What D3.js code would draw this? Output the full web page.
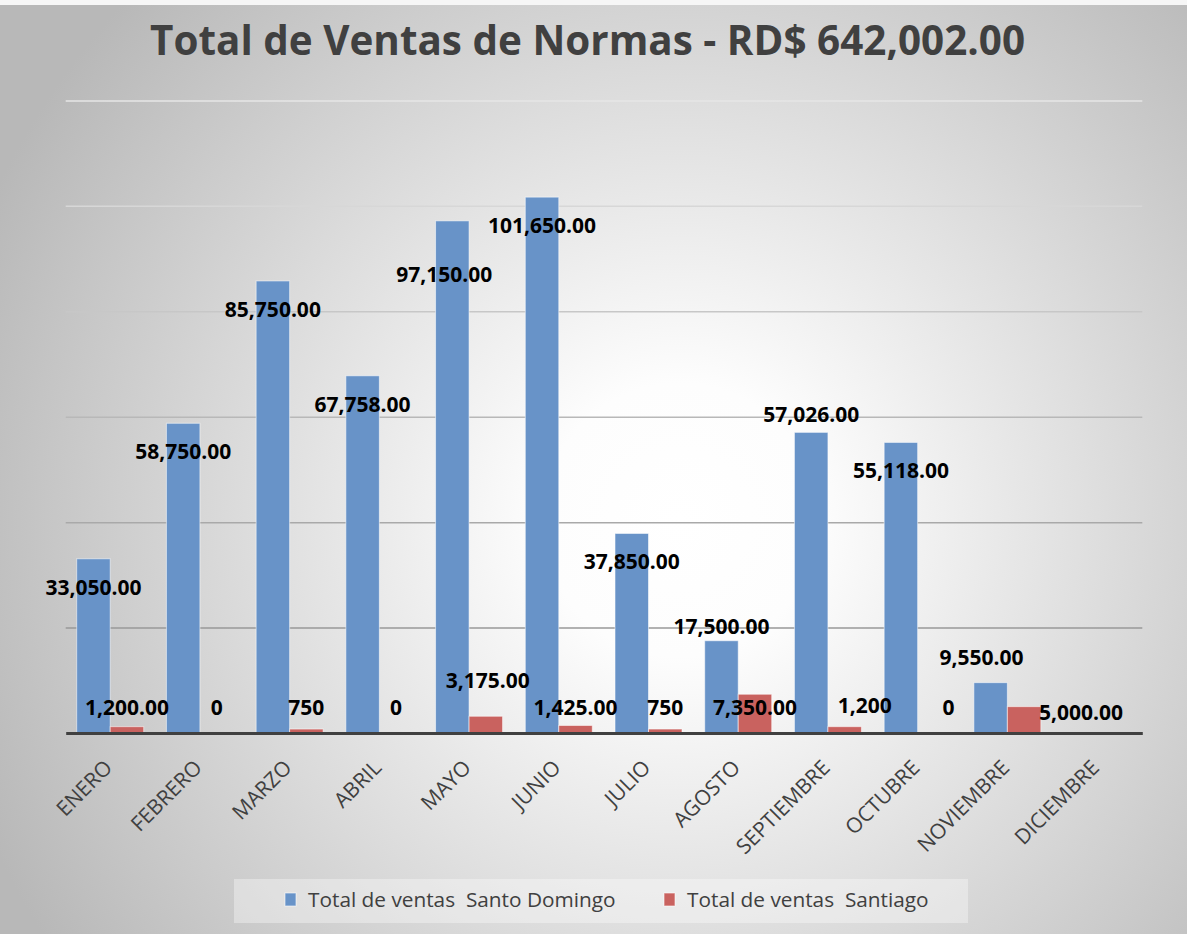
<!DOCTYPE html>
<html>
<head>
  <meta charset="utf-8">
  <title>Total de Ventas de Normas</title>
  <style>
    body { margin: 0; background: #fff; }
    svg { display: block; }
    .title { font-family: "Open Sans", sans-serif; font-weight: 700; fill: #404040; }
    .val { font-family: "Open Sans", sans-serif; font-weight: 700; font-size: 21px; fill: #000; text-anchor: middle; }
    .cat { font-family: "Open Sans", sans-serif; font-size: 21px; fill: #404040; }
    .legend text { font-family: "Open Sans", sans-serif; font-size: 20.8px; fill: #404040; white-space: pre; }
  </style>
</head>
<body>
  <svg id="canvas"></svg>
  <script src="https://d3js.org/d3.v7.min.js"></script>
  <script>
    // data
    const months = ["ENERO", "FEBRERO", "MARZO", "ABRIL", "MAYO", "JUNIO", "JULIO",
      "AGOSTO", "SEPTIEMBRE", "OCTUBRE", "NOVIEMBRE", "DICIEMBRE"];
    const santoDomingo = [33050, 58750, 85750, 67758, 97150, 101650, 37850, 17500, 57026, 55118, 9550, null];
    const santiago = [1200, 0, 750, 0, 3175, 1425, 750, 7350, 1200, 0, 5000, null];
    const santiagoLabels = ["1,200.00", "0", "750", "0", "3,175.00", "1,425.00", "750", "7,350.00", "1,200", "0", "5,000.00", null];
    const seriesNames = ["Total de ventas  Santo Domingo", "Total de ventas  Santiago"];
    const seriesColors = ["#6893c8", "#c9625f"];
    const yMax = 120000;
    const titleText = "Total de Ventas de Normas - RD$ 642,002.00";

    // hand-moved label nudges (like the original workbook), [dx, dy]
    const nudgeSD = [[0, 0], [0, 0], [0, 0], [0, 0], [-8, 25], [0, 0], [0, 0], [0, -43], [0, -46], [0, 0], [-9, -54], [0, 0]];
    const nudgeST = [[0, 0], [0, 0], [0, 0], [0, 0], [2, -27], [0, 0], [0, 0], [0, 0], [20, -2], [14, 0], [57, 5], [0, 0]];

    const W = 1187, H = 934;
    const dims = { left: 65.7, right: 1142.3, top: 100.4, base: 733 };

    const svg = d3.select("#canvas").attr("width", W).attr("height", H);

    const defs = svg.append("defs");
    const grad = defs.append("radialGradient")
      .attr("id", "bg")
      .attr("gradientUnits", "userSpaceOnUse")
      .attr("cx", 680).attr("cy", 520).attr("r", 760);
    grad.append("stop").attr("offset", 0).attr("stop-color", "#ffffff");
    grad.append("stop").attr("offset", 0.18).attr("stop-color", "#fdfdfd");
    grad.append("stop").attr("offset", 1).attr("stop-color", "#b8b8b8");

    svg.append("rect").attr("width", W).attr("height", H).attr("fill", "#f6f6f6");
    svg.append("rect").attr("y", 5).attr("width", W).attr("height", H - 5).attr("fill", "url(#bg)");

    svg.append("text")
      .attr("class", "title")
      .attr("x", 150).attr("y", 55)
      .attr("font-size", 42)
      .attr("textLength", 875)
      .attr("lengthAdjust", "spacingAndGlyphs")
      .text(titleText);

    const x0 = d3.scaleBand().domain(months).range([dims.left, dims.right]).padding(0);
    const x1 = d3.scaleBand().domain([0, 1]).range([11, 78]).padding(0);
    const y = d3.scaleLinear().domain([0, yMax]).range([dims.base, dims.top]);

    // gridlines
    const gridColor = d3.scaleLinear().domain([0, yMax]).range(["#8a8a8a", "#e6e6e6"]);
    const grid = svg.append("g")
      .attr("transform", "translate(" + dims.left + ",0)")
      .call(d3.axisLeft(y).ticks(6).tickSize(-(dims.right - dims.left)).tickFormat(""));
    grid.select(".domain").remove();
    grid.selectAll(".tick line")
      .attr("stroke", d => gridColor(d))
      .attr("stroke-width", 1.5)
      .filter(d => d === 0).remove();

    // bars
    const rows = months.map((m, i) => ({ month: m, i: i, vals: [santoDomingo[i], santiago[i]] }));
    const groups = svg.append("g").selectAll("g")
      .data(rows)
      .join("g")
      .attr("transform", d => "translate(" + x0(d.month) + ",0)");

    groups.selectAll("rect")
      .data(d => d.vals.map((v, s) => ({ v: v, s: s })).filter(e => e.v !== null))
      .join("rect")
      .attr("x", e => x1(e.s))
      .attr("width", x1.bandwidth())
      .attr("y", e => y(e.v))
      .attr("height", e => dims.base - y(e.v))
      .attr("fill", e => seriesColors[e.s])
      .attr("stroke", "rgba(255,255,255,0.55)")
      .attr("stroke-width", 1);

    // axis line + category labels
    const xAxis = svg.append("g")
      .attr("transform", "translate(0," + dims.base + ")")
      .call(d3.axisBottom(x0).tickSize(0).tickPadding(0));
    xAxis.select(".domain").attr("stroke", "#404040").attr("stroke-width", 3);
    xAxis.selectAll(".tick text")
      .attr("class", "cat")
      .attr("text-anchor", "end")
      .attr("dy", null)
      .attr("y", 0)
      .attr("transform", "translate(3,36) rotate(-45)");

    // value labels
    const labels = svg.append("g");
    labels.selectAll(".sd")
      .data(rows.filter(d => d.vals[0] !== null))
      .join("text")
      .attr("class", "val")
      .attr("x", d => x0(d.month) + x1(0) + x1.bandwidth() / 2 + nudgeSD[d.i][0])
      .attr("y", d => y(d.vals[0]) + 36 + nudgeSD[d.i][1])
      .text(d => d3.format(",.2f")(d.vals[0]));

    labels.selectAll(".st")
      .data(rows.filter(d => santiagoLabels[d.i] !== null))
      .join("text")
      .attr("class", "val")
      .attr("x", d => x0(d.month) + x1(1) + x1.bandwidth() / 2 + nudgeST[d.i][0])
      .attr("y", d => dims.base - 18 + nudgeST[d.i][1])
      .text(d => santiagoLabels[d.i]);

    // legend
    const legend = svg.append("g").attr("class", "legend");
    legend.append("rect")
      .attr("x", 234).attr("y", 879).attr("width", 734).attr("height", 44)
      .attr("fill", "rgba(255,255,255,0.35)");
    const items = legend.selectAll("g.item")
      .data(seriesNames)
      .join("g")
      .attr("class", "item")
      .attr("transform", (d, i) => "translate(" + [285, 664][i] + ",0)");
    items.append("rect")
      .attr("y", 893).attr("width", 11).attr("height", 13)
      .attr("fill", (d, i) => seriesColors[i])
      .attr("stroke", "rgba(255,255,255,0.6)");
    items.append("text")
      .attr("x", 23).attr("y", 907)
      .text(d => d);
  </script>
</body>
</html>
